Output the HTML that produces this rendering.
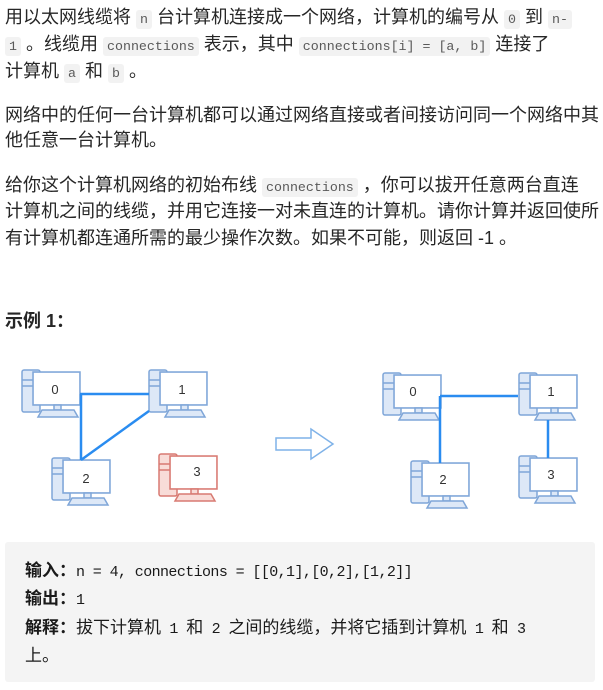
<!DOCTYPE html>
<html><head><meta charset="utf-8"><style>
body{margin:0;width:603px;height:690px;background:#fff;position:relative;overflow:hidden;font-family:"Liberation Sans","Noto Sans CJK SC",sans-serif;color:#262626;}
.l{position:absolute;left:5px;font-size:18px;line-height:22px;white-space:nowrap;}
code{font-family:"Liberation Mono",monospace;font-size:13.3px;background:#f2f2f2;color:#595959;padding:2px 4px;border-radius:3px;}
.pre{position:absolute;left:5px;top:542px;width:590px;height:140px;background:#f4f4f4;border-radius:3px;}
.m{position:absolute;left:25px;font-family:"Liberation Sans","Noto Sans CJK SC",sans-serif;font-size:17px;line-height:22px;white-space:nowrap;color:#1a1a1a;}
.m span{font-family:"Liberation Mono",monospace;font-size:15px;letter-spacing:-0.6px;white-space:pre;}
</style></head><body>
<div class="l" style="top:6px">用以太网线缆将 <code>n</code> 台计算机连接成一个网络，计算机的编号从 <code>0</code> 到 <code>n-</code></div>
<div class="l" style="top:33px"><code>1</code> 。线缆用 <code>connections</code> 表示，其中 <code>connections[i] = [a, b]</code> 连接了</div>
<div class="l" style="top:60px">计算机 <code>a</code> 和 <code>b</code> 。</div>
<div class="l" style="top:104px">网络中的任何一台计算机都可以通过网络直接或者间接访问同一个网络中其</div>
<div class="l" style="top:129px">他任意一台计算机。</div>
<div class="l" style="top:174px">给你这个计算机网络的初始布线 <code>connections</code> ，你可以拔开任意两台直连</div>
<div class="l" style="top:200px">计算机之间的线缆，并用它连接一对未直连的计算机。请你计算并返回使所</div>
<div class="l" style="top:227px">有计算机都连通所需的最少操作次数。如果不可能，则返回 -1 。</div>
<div class="l" style="top:310px;font-weight:bold">示例 1：</div>
<svg style="position:absolute;left:0;top:0" width="603" height="690">
<defs>
<g id="pc">
<rect x="-11" y="-2" width="18" height="42" rx="2"/>
<line x1="-11" y1="8" x2="7" y2="8"/>
<line x1="-11" y1="14" x2="7" y2="14"/>
<rect x="0" y="0" width="47" height="33"/>
<rect x="21" y="33" width="7" height="5"/>
<path d="M5 45 L9 38 L41 38 L45 45 Z"/>
</g>
</defs>
<g fill="#dde8f7" stroke="#7fa6d8" stroke-width="1.5">
<use href="#pc" x="33" y="372"/>
<use href="#pc" x="160" y="372"/>
<use href="#pc" x="63" y="460"/>
<use href="#pc" x="394" y="375"/>
<use href="#pc" x="530" y="375"/>
<use href="#pc" x="422" y="463"/>
<use href="#pc" x="530" y="458"/>
</g>
<g fill="#f8dcd8" stroke="#d87a72" stroke-width="1.5"><use href="#pc" x="170" y="456"/></g>
<g fill="#fff" stroke="none">
<rect x="34" y="373" width="45" height="31"/><rect x="161" y="373" width="45" height="31"/><rect x="64" y="461" width="45" height="31"/>
<rect x="395" y="376" width="45" height="31"/><rect x="531" y="376" width="45" height="31"/><rect x="423" y="464" width="45" height="31"/><rect x="531" y="459" width="45" height="31"/><rect x="171" y="457" width="45" height="31"/>
</g>
<g stroke="#2a8cf0" stroke-width="2.5" fill="none">
<line x1="80" y1="394" x2="149" y2="394"/><line x1="81" y1="394" x2="81" y2="460"/><line x1="149" y1="411" x2="81" y2="460"/>
<line x1="440" y1="396" x2="518" y2="396"/><line x1="440" y1="396" x2="440" y2="463"/><line x1="548" y1="420" x2="548" y2="458"/>
</g>
<path d="M276 438 L311 438 L311 429 L333 444 L311 459 L311 450 L276 450 Z" fill="#fff" stroke="#7fb2e8" stroke-width="1.5"/>
<g font-family="Liberation Sans,sans-serif" font-size="13" fill="#333" text-anchor="middle">
<text x="55" y="394">0</text><text x="182" y="394">1</text><text x="86" y="483">2</text><text x="197" y="476">3</text>
<text x="413" y="396">0</text><text x="551" y="396">1</text><text x="443" y="484">2</text><text x="551" y="479">3</text>
</g>
</svg>
<div class="pre"></div>
<div class="m" style="top:560px"><b>输入：</b><span>n = 4, connections = [[0,1],[0,2],[1,2]]</span></div>
<div class="m" style="top:588px"><b>输出：</b><span>1</span></div>
<div class="m" style="top:617px"><b>解释：</b>拔下计算机<span> 1 </span>和<span> 2 </span>之间的线缆，并将它插到计算机<span> 1 </span>和<span> 3</span></div>
<div class="m" style="top:645px">上。</div>
</body></html>
